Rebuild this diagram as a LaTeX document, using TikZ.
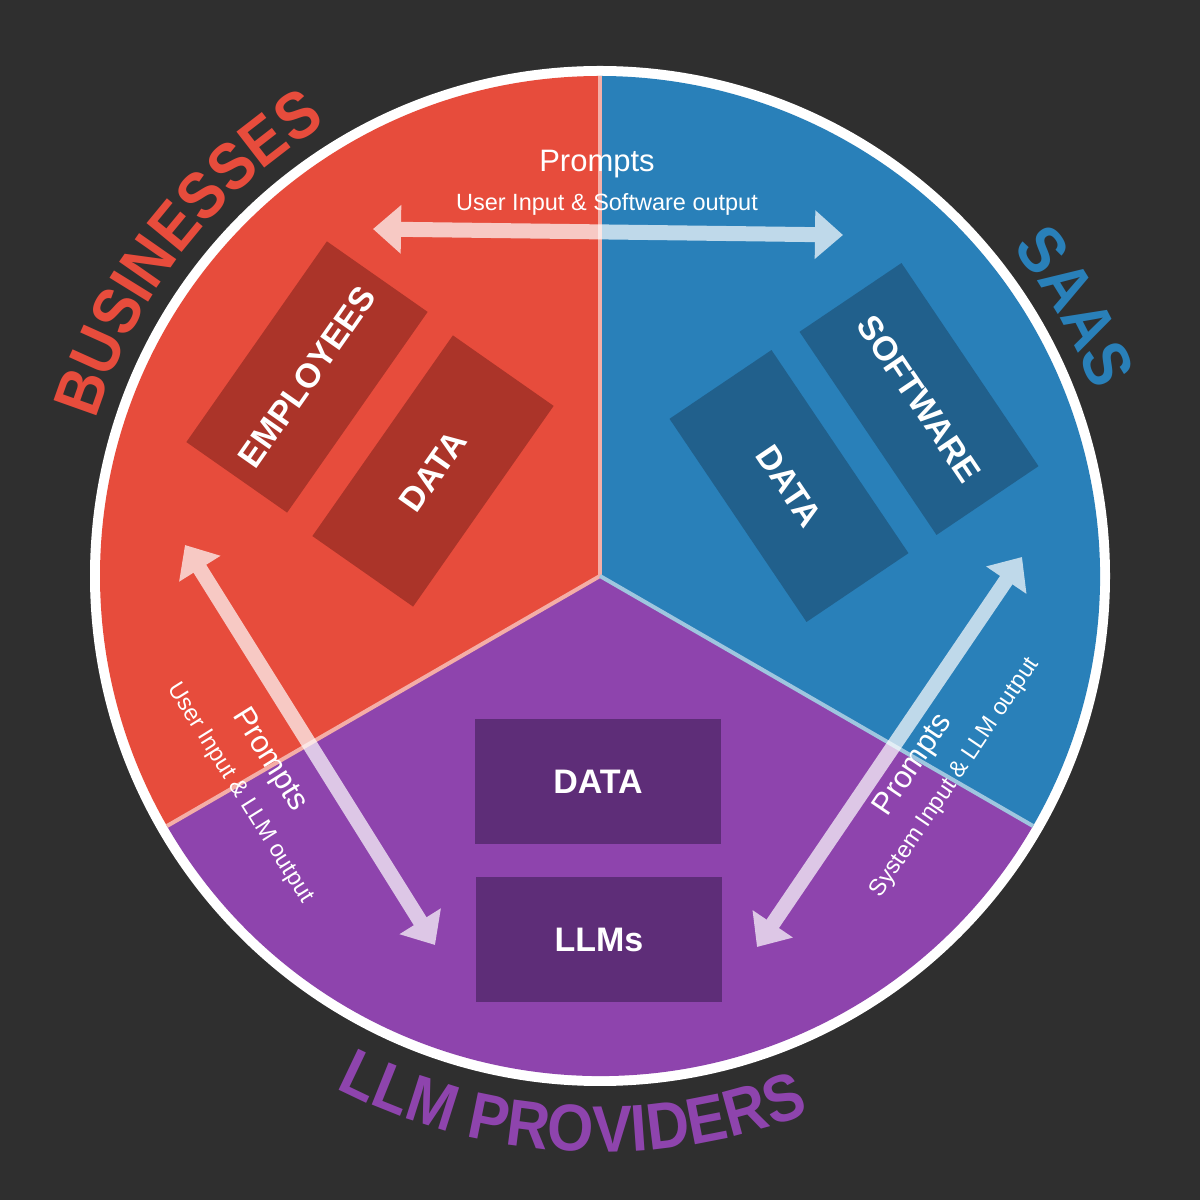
\documentclass[tikz,border=0pt]{standalone}
\usepackage{fontspec}
\setmainfont{Liberation Sans}
\newfontfamily\titlefam{Liberation Sans}[FakeStretch=0.9]
\usepackage{xcolor}
\usepackage{tikz}
\usetikzlibrary{arrows.meta,decorations.text}

\definecolor{bgdark}{HTML}{2F2F2F}
\definecolor{bizred}{HTML}{E74C3C}
\definecolor{bizdark}{HTML}{AB3429}
\definecolor{saasblue}{HTML}{2980B9}
\definecolor{saasdark}{HTML}{21608C}
\definecolor{llmpurple}{HTML}{8E44AD}
\definecolor{llmdark}{HTML}{5E2D78}

\newcommand{\titlefont}{\titlefam\fontsize{66}{66}\selectfont\bfseries}
\newcommand{\boxfont}{\fontsize{34}{34}\selectfont\bfseries}

\begin{document}
\begin{tikzpicture}[
  x=1pt, y=1pt,
  blockbox/.style={
    rectangle,
    inner sep=0pt,
    minimum width=245pt,
    minimum height=123pt,
    text=white,
    font=\boxfont
  },
  promptarrow/.style={
    white,
    line width=15pt,
    {Triangle[length=28pt,width=47pt]}-{Triangle[length=28pt,width=47pt]}
  },
  promptlabel/.style={text=white, inner sep=0pt, font=\fontsize{31}{31}\selectfont},
  promptsub/.style={text=white, inner sep=0pt, font=\fontsize{23.5}{23.5}\selectfont}
]

\fill[bgdark] (0,0) rectangle (1200,1200);
\useasboundingbox (0,0) rectangle (1200,1200);

\coordinate (ctr) at (600,624);

% wheel
\fill[white] (ctr) circle[radius=510];
\fill[bizred] (ctr) -- ++(90:500) arc[start angle=90, end angle=210, radius=500] -- cycle;
\fill[saasblue] (ctr) -- ++(-30:500) arc[start angle=-30, end angle=90, radius=500] -- cycle;
\fill[llmpurple] (ctr) -- ++(210:500) arc[start angle=210, end angle=330, radius=500] -- cycle;

\draw[bizred!45!white, line width=4pt] (ctr) -- ++(90:500);
\draw[bizred!45!white, line width=4pt] (ctr) -- ++(210:500);
\draw[saasblue!45!white, line width=4pt] (ctr) -- ++(-30:500);

% titles round the wheel
\path[decorate, decoration={text along path, text align=center, text color=bizred,
  text={|\titlefont|BUSINESSES}}]
  ([shift={(172:528)}]ctr) arc[start angle=172, end angle=112, radius=528];
\path[decorate, decoration={text along path, text align=center, text color=saasblue,
  text={|\titlefont|SAAS}}]
  ([shift={(60:527)}]ctr) arc[start angle=60, end angle=-1, radius=527];
\path[decorate, decoration={text along path, text align=center, text color=llmpurple,
  text={|\titlefont|LLM PROVIDERS}}]
  ([shift={(-133:576)}]ctr) arc[start angle=-133, end angle=-53, radius=576];

% blocks
\node[blockbox, fill=bizdark, rotate=55] (empbox) at (307,823) {EMPLOYEES};
\node[blockbox, fill=bizdark, rotate=55] (bizdata) at (433,729) {DATA};

\node[blockbox, fill=saasdark, rotate=-56] (softbox) at (919,801) {SOFTWARE};
\node[blockbox, fill=saasdark, rotate=-56] (saasdata) at (789,714) {DATA};

\node[blockbox, fill=llmdark, minimum width=246pt, minimum height=125pt] (llmdata) at (598,418) {DATA};
\node[blockbox, fill=llmdark, minimum width=246pt, minimum height=125pt] (llmbox) at (599,260) {LLMs};

% prompt flows
\coordinate (topL) at (373,971);
\coordinate (topR) at (843,965);
\coordinate (leftU) at (185,655);
\coordinate (leftD) at (435,255);
\coordinate (rightU) at (1022,643);
\coordinate (rightD) at (757,253);

\begin{scope}[transparency group, opacity=0.7]
\draw[promptarrow] (topL) -- (topR);
\end{scope}
\begin{scope}[transparency group, opacity=0.7]
\draw[promptarrow] (leftU) -- (leftD);
\end{scope}
\begin{scope}[transparency group, opacity=0.7]
\draw[promptarrow] (rightU) -- (rightD);
\end{scope}

\node[promptlabel] (ptop) at (597,1036) {Prompts};
\node[promptsub] (ptopsub) at (607,996) {User Input \& Software output};

\node[promptlabel, rotate=-58] (pleft) at (269,440) {Prompts};
\node[promptsub, rotate=-58] (pleftsub) at (240,407) {User Input \& LLM output};

\node[promptlabel, rotate=56] (pright) at (914,435) {Prompts};
\node[promptsub, rotate=56] (prightsub) at (955,422) {System Input \& LLM output};

\end{tikzpicture}
\end{document}
